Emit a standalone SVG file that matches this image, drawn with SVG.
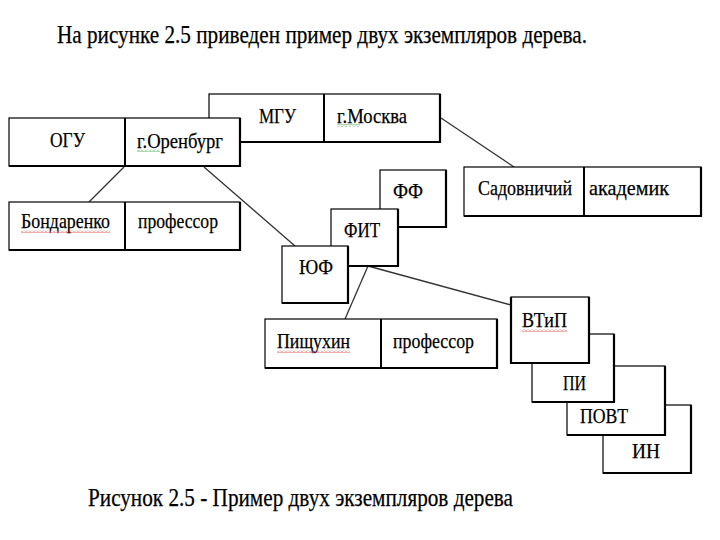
<svg xmlns="http://www.w3.org/2000/svg" width="720" height="540" viewBox="0 0 720 540" font-family="'Liberation Serif','DejaVu Serif',serif">
<style>
text{font-family:"Liberation Serif","DejaVu Serif",serif;fill:#000;stroke:#000;stroke-width:0.25}
.t{font-size:22px}
.box{fill:#fff;stroke:#000;stroke-width:1.2}
.edge{fill:none;stroke:#000;stroke-width:2.2}
.div{stroke:#000;stroke-width:2}
.con{stroke:#333;stroke-width:1.3;fill:none}
</style>
<defs>
<pattern id="wr" width="4" height="3" patternUnits="userSpaceOnUse"><path d="M0 2.5 L2 0.5 L4 2.5" fill="none" stroke="#e03030" stroke-width="0.8"/></pattern>
<pattern id="wg" width="4" height="3" patternUnits="userSpaceOnUse"><path d="M0 2.5 L2 0.5 L4 2.5" fill="none" stroke="#30a030" stroke-width="0.8"/></pattern>
</defs>
<rect width="720" height="540" fill="#fff"/>
<text x="57" y="43" font-size="25" textLength="530" lengthAdjust="spacingAndGlyphs">На рисунке 2.5 приведен пример двух экземпляров дерева.</text>
<g id="connectors">
<line class="con" x1="124" y1="167" x2="89" y2="202"/>
<line class="con" x1="204" y1="167" x2="295" y2="246"/>
<line class="con" x1="441" y1="118" x2="514" y2="167"/>
<line class="con" x1="368" y1="266" x2="345" y2="319"/>
<line class="con" x1="368" y1="266" x2="511" y2="305"/>
</g>
<g id="mgu">
<rect class="box" x="209" y="94" width="231" height="48"/>
<polyline class="edge" points="440,94 440,142 209,142"/>
<line class="div" x1="324" y1="94" x2="324" y2="142"/>
<text class="t" x="259" y="123" textLength="37" lengthAdjust="spacingAndGlyphs">МГУ</text>
<text class="t" x="337" y="123" textLength="70" lengthAdjust="spacingAndGlyphs">г.Москва</text>
<rect x="337" y="124" width="23" height="3" fill="url(#wg)"/>
</g>
<g id="ogu">
<rect class="box" x="9" y="118" width="231" height="48"/>
<polyline class="edge" points="240,118 240,166 9,166"/>
<line class="div" x1="125" y1="118" x2="125" y2="166"/>
<text class="t" x="50" y="147" textLength="35" lengthAdjust="spacingAndGlyphs">ОГУ</text>
<text class="t" x="137" y="148" textLength="86" lengthAdjust="spacingAndGlyphs">г.Оренбург</text>
<rect x="137" y="149" width="23" height="3" fill="url(#wg)"/>
</g>
<g id="bondarenko">
<rect class="box" x="9" y="202" width="231" height="48"/>
<polyline class="edge" points="240,202 240,250 9,250"/>
<line class="div" x1="125" y1="202" x2="125" y2="250"/>
<text class="t" x="21" y="228" textLength="89" lengthAdjust="spacingAndGlyphs">Бондаренко</text>
<rect x="21" y="230" width="89" height="3" fill="url(#wr)"/>
<text class="t" x="138" y="228" textLength="80" lengthAdjust="spacingAndGlyphs">профессор</text>
</g>
<g id="sadovnichiy">
<rect class="box" x="464" y="167" width="237" height="49"/>
<polyline class="edge" points="701,167 701,216 464,216"/>
<line class="div" x1="584" y1="167" x2="584" y2="216"/>
<text class="t" x="478" y="195" textLength="94" lengthAdjust="spacingAndGlyphs">Садовничий</text>
<text class="t" x="589" y="195" textLength="80" lengthAdjust="spacingAndGlyphs">академик</text>
</g>
<g id="ff">
<rect class="box" x="380" y="170" width="66" height="57"/>
<polyline class="edge" points="446,170 446,227 380,227"/>
<text class="t" x="393" y="198" textLength="30" lengthAdjust="spacingAndGlyphs">ФФ</text>
</g>
<g id="fit">
<rect class="box" x="331" y="209" width="67" height="57"/>
<polyline class="edge" points="398,209 398,266 331,266"/>
<text class="t" x="344" y="237" textLength="36" lengthAdjust="spacingAndGlyphs">ФИТ</text>
</g>
<g id="yuf">
<rect class="box" x="282" y="246" width="66" height="57"/>
<polyline class="edge" points="348,246 348,303 282,303"/>
<text class="t" x="299" y="274" textLength="34" lengthAdjust="spacingAndGlyphs">ЮФ</text>
</g>
<g id="pishukhin">
<rect class="box" x="265" y="319" width="232" height="49"/>
<polyline class="edge" points="497,319 497,368 265,368"/>
<line class="div" x1="381" y1="319" x2="381" y2="368"/>
<text class="t" x="277" y="348" textLength="73" lengthAdjust="spacingAndGlyphs">Пищухин</text>
<rect x="277" y="350" width="73" height="3" fill="url(#wr)"/>
<text class="t" x="393" y="348" textLength="81" lengthAdjust="spacingAndGlyphs">профессор</text>
</g>
<g id="in">
<rect class="box" x="603" y="405" width="88" height="68"/>
<polyline class="edge" points="691,405 691,473 603,473"/>
<text class="t" x="632" y="458" textLength="28" lengthAdjust="spacingAndGlyphs">ИН</text>
</g>
<g id="povt">
<rect class="box" x="567" y="366" width="98" height="69"/>
<polyline class="edge" points="665,366 665,435 567,435"/>
<text class="t" x="580" y="423" textLength="48" lengthAdjust="spacingAndGlyphs">ПОВТ</text>
</g>
<g id="pi">
<rect class="box" x="532" y="334" width="82" height="68"/>
<polyline class="edge" points="614,334 614,402 532,402"/>
<text class="t" x="563" y="390" textLength="23" lengthAdjust="spacingAndGlyphs">ПИ</text>
</g>
<g id="vtip">
<rect class="box" x="511" y="297" width="78" height="66"/>
<polyline class="edge" points="511,297 511,363 589,363 589,297"/>
<text class="t" x="522" y="327" textLength="45" lengthAdjust="spacingAndGlyphs">ВТиП</text>
<rect x="522" y="329" width="45" height="3" fill="url(#wr)"/>
</g>
<text x="88" y="506" font-size="26" textLength="425" lengthAdjust="spacingAndGlyphs">Рисунок 2.5 - Пример двух экземпляров дерева</text>
</svg>
